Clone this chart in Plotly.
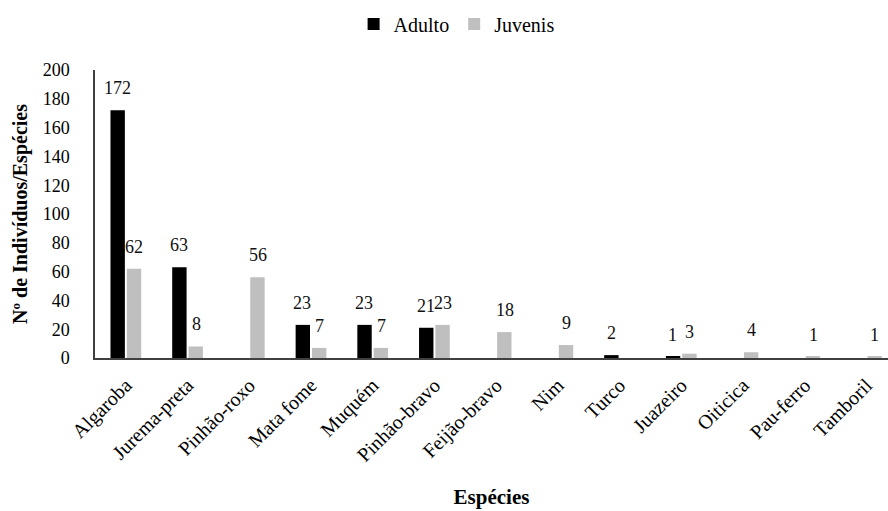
import plotly.graph_objects as go

especies = ["Algaroba", "Jurema-preta", "Pinhão-roxo", "Mata fome", "Muquém",
            "Pinhão-bravo", "Feijão-bravo", "Nim", "Turco", "Juazeiro",
            "Oiticica", "Pau-ferro", "Tamboril"]
adulto = [172, 63, 0, 23, 23, 21, 0, 0, 2, 1, 0, 0, 0]
juvenis = [62, 8, 56, 7, 7, 23, 18, 9, 0, 3, 4, 1, 1]
y_ticks = list(range(0, 201, 20))

FONT = "Liberation Serif, Times New Roman, serif"

fig = go.Figure()
fig.add_trace(go.Bar(
    x=especies, y=adulto, name="Adulto",
    marker=dict(color="#000000", line=dict(width=0)),
))
fig.add_trace(go.Bar(
    x=especies, y=juvenis, name="Juvenis",
    marker=dict(color="#bfbfbf", line=dict(width=0)),
))

# value labels above each bar, shifted to the left/right bar of the pair
for vals, dx in ((adulto, -8.5), (juvenis, 8.5)):
    for cat, v in zip(especies, vals):
        if v > 0:
            fig.add_annotation(
                x=cat, y=v, text=str(v), showarrow=False,
                xanchor="center", yanchor="bottom", xshift=dx, yshift=10,
                font=dict(family=FONT, size=18, color="#111111"),
            )

fig.update_layout(
    width=888, height=511,
    margin=dict(l=95, r=0, t=70, b=153),
    paper_bgcolor="white", plot_bgcolor="white",
    barmode="group", bargap=0.47, bargroupgap=0.12,
    font=dict(family=FONT, size=18, color="#000000"),
    showlegend=True,
    legend=dict(orientation="h", x=0.456, xanchor="center", y=1.16, yanchor="middle",
                font=dict(family=FONT, size=20, color="#000000"),
                itemwidth=30, traceorder="normal"),
)

fig.update_xaxes(
    type="category", range=[-0.5, 12.35],
    tickangle=-45, tickfont=dict(family=FONT, size=20, color="#000000"),
    showline=True, linecolor="#404040", linewidth=1.5,
    ticks="", showgrid=False, zeroline=False, ticklabelstandoff=6,
    title=dict(text="<b>Espécies</b>", font=dict(family=FONT, size=21), standoff=24),
)
fig.update_yaxes(
    range=[0, 200], tickvals=y_ticks,
    tickfont=dict(family=FONT, size=18, color="#000000"),
    showline=True, linecolor="#404040", linewidth=1.5,
    ticks="", showgrid=False, zeroline=False, ticklabelstandoff=20,
    title=dict(text="<b>Nº de Indivíduos/Espécies</b>", font=dict(family=FONT, size=20), standoff=10),
)

fig.write_html("out.html")
